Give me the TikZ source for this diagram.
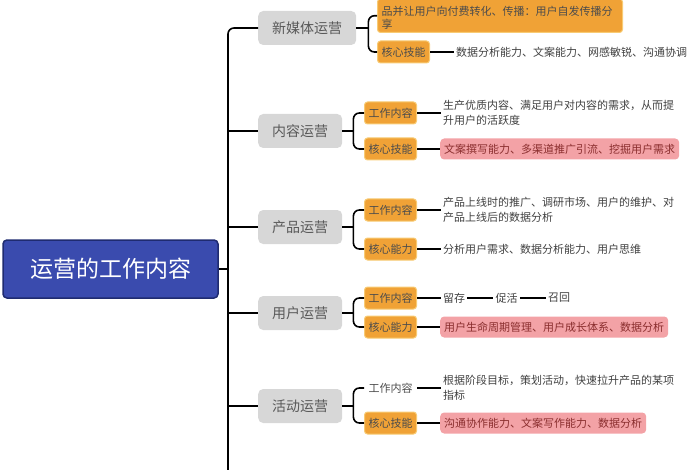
\documentclass[tikz,border=0pt]{standalone}
\usepackage{fontspec}
\setmainfont{Noto Sans CJK SC}
\usepackage{tikz}
\usetikzlibrary{positioning,calc}
\definecolor{rootblue}{HTML}{3A4BAE}
\definecolor{rootedge}{HTML}{1F2B70}
\definecolor{branchgray}{HTML}{D7D7D7}
\definecolor{tagorange}{HTML}{F0A236}
\definecolor{tagedge}{HTML}{F8CB74}
\definecolor{notepink}{HTML}{F3A2A6}
\definecolor{notetext}{HTML}{8A2E2E}

\begin{document}
\begin{tikzpicture}[x=1pt,y=-1pt,
  root/.style={draw=rootedge,line width=1.5pt,fill=rootblue,rounded corners=4pt,text=white,
    font=\fontsize{23}{26}\selectfont,minimum width=215pt,minimum height=58pt},
  branch/.style={fill=branchgray,rounded corners=5pt,text=black!65,
    font=\fontsize{14}{16}\selectfont,minimum height=34pt,inner xsep=14pt},
  tag/.style={draw=tagedge,line width=1pt,fill=tagorange,rounded corners=3pt,text=black!70,
    font=\fontsize{11}{13}\selectfont,minimum width=52pt,minimum height=22pt,inner xsep=2pt},
  plaintag/.style={tag,draw=none,fill=none},
  note/.style={font=\fontsize{11}{15}\selectfont,text=black!75,align=left,inner sep=2pt},
  hot/.style={note,fill=notepink,rounded corners=4pt,text=notetext,minimum height=21pt,inner xsep=4pt},
  link/.style={line width=1.6pt,rounded corners=6pt}]
\useasboundingbox (0,0) rectangle (700,470);
\clip (0,0) rectangle (700,470);

% root and branches
\node[root] (root) at (110.5,269) {运营的工作内容};
\node[branch,anchor=west] (media) at (258,28) {新媒体运营};
\node[branch,anchor=west] (content) at (258,131) {内容运营};
\node[branch,anchor=west] (product) at (258,227) {产品运营};
\node[branch,anchor=west] (user) at (258,313) {用户运营};
\node[branch,anchor=west] (event) at (258,406) {活动运营};
\coordinate (spineend) at (228,480);

\draw[link] (media.west) -| (spineend);
\draw[link] (root.east) -- (root.east -| spineend);
\foreach \b in {content,product,user,event}
  \draw[link] (\b.west -| spineend) -- (\b.west);

% 新媒体运营
\node[tag,anchor=south west,text width=237pt,align=left,inner xsep=4pt] (mediawork) at (377,33)
  {\mbox{}\\品并让用户向付费转化、传播：用户自发传播分\\享};
\node[tag,anchor=west] (mediaskill) at (377,52) {核心技能};
\node[note,right=24pt of mediaskill] (mediaskilltxt) {数据分析能力、文案能力、网感敏锐、沟通协调};
\draw[link] (media.east) -- ++(12,0) coordinate (mediafork);
\draw[link] (mediafork) |- (mediawork.west);
\draw[link] (mediafork) |- (mediaskill.west);
\draw[link] (mediaskill) -- (mediaskilltxt);

% 内容运营
\node[tag,anchor=west] (contentwork) at (364,113) {工作内容};
\node[tag,anchor=west] (contentskill) at (364,149) {核心技能};
\node[note,right=24pt of contentwork] (contentworktxt)
  {生产优质内容、满足用户对内容的需求，从而提\\升用户的活跃度};
\node[hot,right=23pt of contentskill] (contentskilltxt) {文案撰写能力、多渠道推广引流、挖掘用户需求};
\draw[link] (content.east) -- ++(11,0) coordinate (contentfork);
\draw[link] (contentfork) |- (contentwork.west);
\draw[link] (contentfork) |- (contentskill.west);
\draw[link] (contentwork) -- (contentworktxt);
\draw[link] (contentskill) -- (contentskilltxt);

% 产品运营
\node[tag,anchor=west] (productwork) at (364,210) {工作内容};
\node[tag,anchor=west] (productskill) at (364,249) {核心能力};
\node[note,right=24pt of productwork] (productworktxt)
  {产品上线时的推广、调研市场、用户的维护、对\\产品上线后的数据分析};
\node[note,right=24pt of productskill] (productskilltxt) {分析用户需求、数据分析能力、用户思维};
\draw[link] (product.east) -- ++(11,0) coordinate (productfork);
\draw[link] (productfork) |- (productwork.west);
\draw[link] (productfork) |- (productskill.west);
\draw[link] (productwork) -- (productworktxt);
\draw[link] (productskill) -- (productskilltxt);

% 用户运营
\node[tag,anchor=west] (userwork) at (364,298) {工作内容};
\node[tag,anchor=west] (userskill) at (364,327) {核心能力};
\node[note,right=24pt of userwork] (keep) {留存};
\node[note,right=26pt of keep] (active) {促活};
\node[note,right=26pt of active] (recall) {召回};
\node[hot,right=23pt of userskill] (userskilltxt) {用户生命周期管理、用户成长体系、数据分析};
\draw[link] (user.east) -- ++(11,0) coordinate (userfork);
\draw[link] (userfork) |- (userwork.west);
\draw[link] (userfork) |- (userskill.west);
\draw[link] (userwork) -- (keep);
\draw[link] (keep) -- (active);
\draw[link] (active) -- (recall);
\draw[link] (userskill) -- (userskilltxt);

% 活动运营
\node[plaintag,anchor=west] (eventwork) at (364,388) {工作内容};
\node[tag,anchor=west] (eventskill) at (364,423) {核心技能};
\node[note,right=24pt of eventwork] (eventworktxt)
  {根据阶段目标，策划活动，快速拉升产品的某项\\指标};
\node[hot,right=23pt of eventskill] (eventskilltxt) {沟通协作能力、文案写作能力、数据分析};
\draw[link] (event.east) -- ++(11,0) coordinate (eventfork);
\draw[link] (eventfork) |- (eventwork.west);
\draw[link] (eventfork) |- (eventskill.west);
\draw[link] (eventwork) -- (eventworktxt);
\draw[link] (eventskill) -- (eventskilltxt);
\end{tikzpicture}
\end{document}
